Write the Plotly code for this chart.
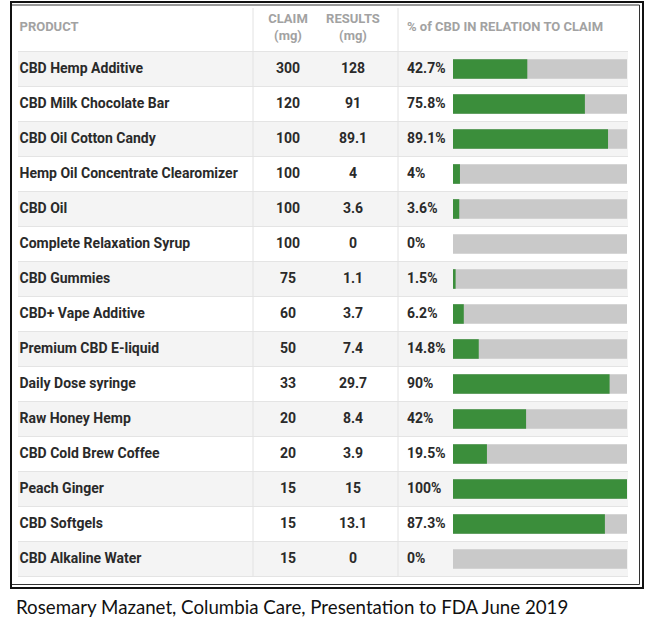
import plotly.graph_objects as go

products = ["CBD Hemp Additive", "CBD Milk Chocolate Bar", "CBD Oil Cotton Candy",
            "Hemp Oil Concentrate Clearomizer", "CBD Oil", "Complete Relaxation Syrup",
            "CBD Gummies", "CBD+ Vape Additive", "Premium CBD E-liquid", "Daily Dose syringe",
            "Raw Honey Hemp", "CBD Cold Brew Coffee", "Peach Ginger", "CBD Softgels",
            "CBD Alkaline Water"]
claim_mg = [300, 120, 100, 100, 100, 100, 75, 60, 50, 33, 20, 20, 15, 15, 15]
results_mg = ["128", "91", "89.1", "4", "3.6", "0", "1.1", "3.7", "7.4", "29.7", "8.4", "3.9", "15", "13.1", "0"]
pct = [42.7, 75.8, 89.1, 4, 3.6, 0, 1.5, 6.2, 14.8, 90, 42, 19.5, 100, 87.3, 0]
pct_labels = ["42.7%", "75.8%", "89.1%", "4%", "3.6%", "0%", "1.5%", "6.2%", "14.8%", "90%",
              "42%", "19.5%", "100%", "87.3%", "0%"]
headers = ["PRODUCT", "CLAIM<br>(mg)", "RESULTS<br>(mg)", "% of CBD IN RELATION TO CLAIM"]
caption = "Rosemary Mazanet, Columbia Care, Presentation to FDA June 2019"

W, H = 648, 624
n = len(products)
rows = list(range(n))
ROW_PX = 35.0
ROW0_PX = 69.0


def px2row(p):
    return (p - ROW0_PX) / ROW_PX


def pxx(p):
    return p / W


def pxy(p):
    return 1 - p / H


y_top = px2row(0)
y_bot = px2row(H)

BODY = dict(family="Roboto", size=14, color="#2a2a2a", weight="bold")
HEAD = dict(family="Roboto", size=13, color="#a2a2a2", weight="bold")

fig = go.Figure()

# gray track bars
fig.add_trace(go.Bar(x=[100] * n, y=rows, orientation="h", xaxis="x2", yaxis="y",
                     marker=dict(color="#c9c9c9", line=dict(width=0)), width=0.56,
                     hoverinfo="skip", showlegend=False))
# green value bars
fig.add_trace(go.Bar(x=pct, y=rows, orientation="h", xaxis="x2", yaxis="y",
                     marker=dict(color="#3b8e3b", line=dict(width=0)), width=0.56,
                     hoverinfo="skip", showlegend=False))

# text columns
fig.add_trace(go.Scatter(x=[19.5] * n, y=rows, mode="text", text=products,
                         textposition="middle right", textfont=BODY, hoverinfo="skip",
                         showlegend=False))
fig.add_trace(go.Scatter(x=[288] * n, y=rows, mode="text", text=[str(c) for c in claim_mg],
                         textposition="middle center", textfont=BODY, hoverinfo="skip",
                         showlegend=False))
fig.add_trace(go.Scatter(x=[353] * n, y=rows, mode="text", text=results_mg,
                         textposition="middle center", textfont=BODY, hoverinfo="skip",
                         showlegend=False))
fig.add_trace(go.Scatter(x=[407] * n, y=rows, mode="text", text=pct_labels,
                         textposition="middle right", textfont=BODY, hoverinfo="skip",
                         showlegend=False))
# headers
hy = px2row(28)
fig.add_trace(go.Scatter(x=[19.5], y=[hy], mode="text", text=[headers[0]],
                         textposition="middle right", textfont=HEAD, hoverinfo="skip", showlegend=False))
fig.add_trace(go.Scatter(x=[288, 353], y=[hy, hy], mode="text", text=headers[1:3],
                         textposition="middle center", textfont=HEAD, hoverinfo="skip", showlegend=False))
fig.add_trace(go.Scatter(x=[407], y=[hy], mode="text", text=[headers[3]],
                         textposition="middle right", textfont=HEAD, hoverinfo="skip", showlegend=False))

shapes = []
# alternating row backgrounds
for r in rows:
    if r % 2 == 0:
        shapes.append(dict(type="rect", xref="x", yref="y", x0=18, x1=628, y0=r - 0.5, y1=r + 0.5,
                           fillcolor="#f4f4f4", line=dict(width=0), layer="below"))
# row separators
for r in range(n + 1):
    shapes.append(dict(type="line", xref="x", yref="y", x0=18, x1=628, y0=r - 0.5, y1=r - 0.5,
                       line=dict(color="#e4e4e4", width=1), layer="below"))
# vertical dividers
for xv in [253, 398]:
    shapes.append(dict(type="line", xref="x", yref="y", x0=xv, x1=xv, y0=px2row(8), y1=n - 0.5,
                       line=dict(color="#e2e2e2", width=1), layer="below"))
# outer frame (double line), in paper coordinates
FR = dict(color="#111111", width=2)
FR2 = dict(color="#333333", width=1)
shapes += [
    dict(type="line", xref="paper", yref="paper", x0=pxx(10), x1=pxx(644), y0=pxy(2), y1=pxy(2), line=FR),
    dict(type="line", xref="paper", yref="paper", x0=pxx(11), x1=pxx(11), y0=pxy(1), y1=pxy(589), line=FR),
    dict(type="line", xref="paper", yref="paper", x0=pxx(643), x1=pxx(643), y0=pxy(1), y1=pxy(589), line=FR),
    dict(type="line", xref="paper", yref="paper", x0=pxx(10), x1=pxx(644), y0=pxy(588), y1=pxy(588), line=FR),
    dict(type="line", xref="paper", yref="paper", x0=pxx(12), x1=pxx(639.5), y0=pxy(5), y1=pxy(5), line=FR2),
    dict(type="line", xref="paper", yref="paper", x0=pxx(639.5), x1=pxx(639.5), y0=pxy(5), y1=pxy(584.5), line=FR2),
    dict(type="line", xref="paper", yref="paper", x0=pxx(12), x1=pxx(639.5), y0=pxy(584.5), y1=pxy(584.5), line=FR2),
]

fig.update_layout(
    width=W, height=H, margin=dict(l=0, r=0, t=0, b=0),
    paper_bgcolor="white", plot_bgcolor="rgba(0,0,0,0)",
    barmode="overlay", showlegend=False, shapes=shapes,
    xaxis=dict(range=[0, W], domain=[0, 1], visible=False, fixedrange=True),
    xaxis2=dict(range=[0, 100], domain=[453 / W, 627 / W], visible=False, anchor="y",
                fixedrange=True),
    yaxis=dict(range=[y_bot, y_top], domain=[0, 1], visible=False, fixedrange=True),
    annotations=[dict(text=caption, xref="paper", yref="paper", x=pxx(14), y=pxy(607),
                      xanchor="left", yanchor="middle", showarrow=False,
                      font=dict(family="Lato", size=18.7, color="#111111"))],
)

fig.write_html("out.html", config={"displayModeBar": False},
               post_script="document.body.style.margin='0';")
